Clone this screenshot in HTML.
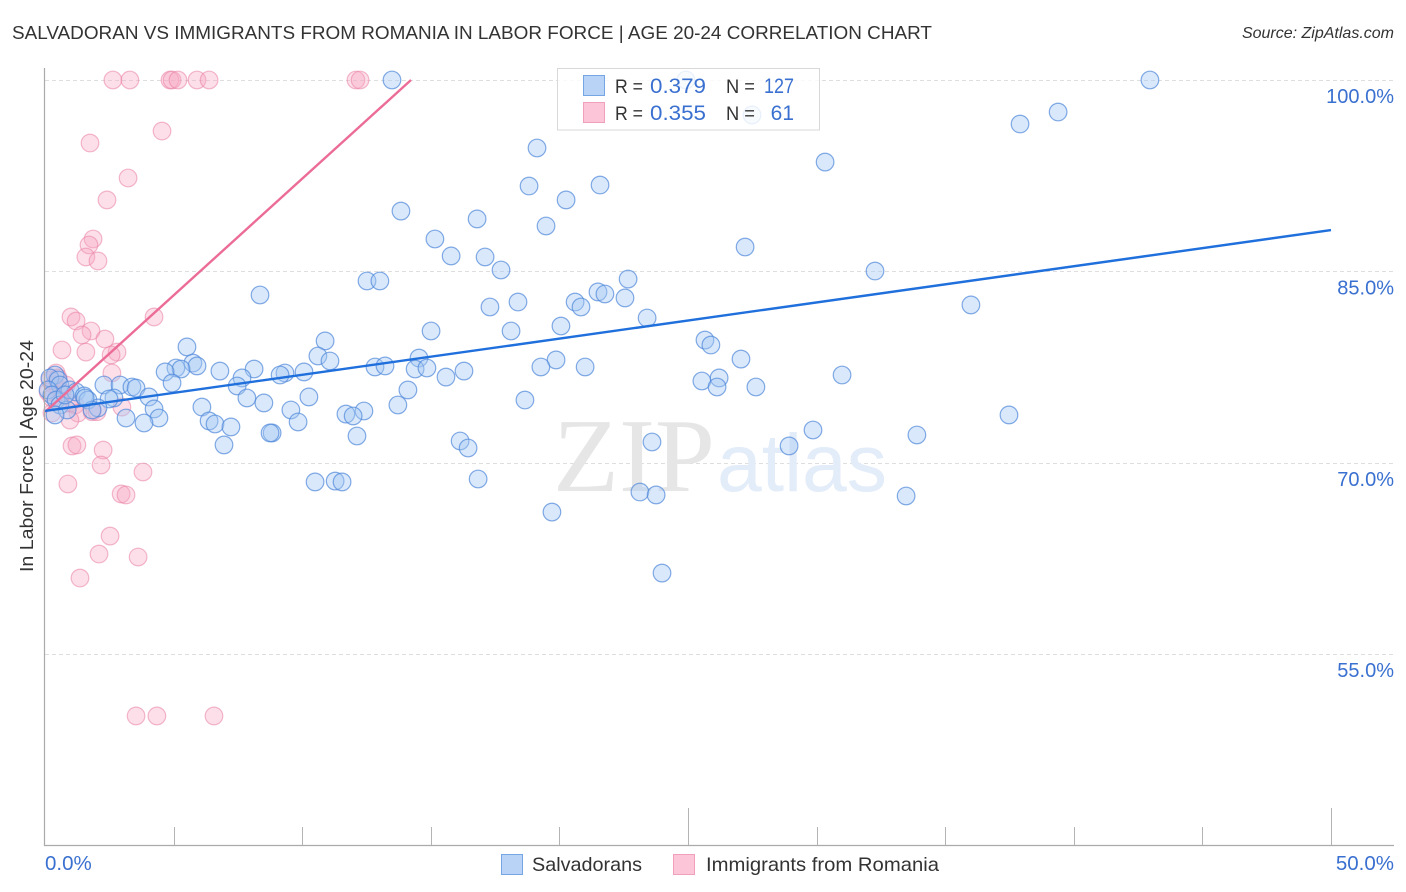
<!DOCTYPE html>
<html>
<head>
<meta charset="utf-8">
<style>
html,body{margin:0;padding:0;background:#fff;width:1406px;height:892px;overflow:hidden}
svg{display:block}
text{font-family:"Liberation Sans",sans-serif}
</style>
</head>
<body>
<svg id="chart" width="1406" height="892" viewBox="0 0 1406 892" xmlns="http://www.w3.org/2000/svg">
  <text x="12" y="39" font-size="18.5" fill="#333" textLength="920" lengthAdjust="spacingAndGlyphs">SALVADORAN VS IMMIGRANTS FROM ROMANIA IN LABOR FORCE | AGE 20-24 CORRELATION CHART</text>
  <text x="1394" y="38" font-size="16" font-style="italic" fill="#333" text-anchor="end">Source: ZipAtlas.com</text>
  <g id="grid"></g>
  <g>
    <text x="553" y="491" font-size="105" fill="#e6e6e6" style="font-family:'Liberation Serif',serif" textLength="162" lengthAdjust="spacingAndGlyphs">ZIP</text>
    <text x="717" y="491" font-size="82" fill="#e3ecf9" textLength="170" lengthAdjust="spacingAndGlyphs">atlas</text>
  </g>
  <g id="pink-points"></g>
  <g id="blue-points"></g>
  <g id="trends"></g>
  <line x1="44.5" y1="68" x2="44.5" y2="846" stroke="#aaa" stroke-width="1.2"/>
  <line x1="44" y1="845.5" x2="1394" y2="845.5" stroke="#aaa" stroke-width="1.2"/>
  <g id="ticks"></g>
  <text transform="translate(33,456) rotate(-90)" font-size="18" fill="#333" text-anchor="middle" textLength="232" lengthAdjust="spacingAndGlyphs">In Labor Force | Age 20-24</text>
  <g>
    <rect x="557.5" y="68.5" width="262" height="61.5" fill="#fff" fill-opacity="0.82" stroke="#d8d8d8"/>
    <rect x="583.5" y="75.5" width="21" height="20" fill="#b9d3f6" stroke="#76a5e4"/>
    <rect x="583.5" y="102.5" width="21" height="20" fill="#fcc6d8" stroke="#f0a0bb"/>
    <text x="615" y="93" font-size="19" fill="#333" textLength="28" lengthAdjust="spacingAndGlyphs">R =</text>
    <text x="650" y="93" font-size="21" fill="#3a70d0" textLength="56" lengthAdjust="spacingAndGlyphs">0.379</text>
    <text x="726" y="93" font-size="19" fill="#333" textLength="29" lengthAdjust="spacingAndGlyphs">N =</text>
    <text x="764" y="93" font-size="21" fill="#3a70d0" textLength="30" lengthAdjust="spacingAndGlyphs">127</text>
    <text x="615" y="120" font-size="19" fill="#333" textLength="28" lengthAdjust="spacingAndGlyphs">R =</text>
    <text x="650" y="120" font-size="21" fill="#3a70d0" textLength="56" lengthAdjust="spacingAndGlyphs">0.355</text>
    <text x="726" y="120" font-size="19" fill="#333" textLength="29" lengthAdjust="spacingAndGlyphs">N =</text>
    <text x="794" y="120" font-size="21" fill="#3a70d0" text-anchor="end">61</text>
  </g>
  <g>
    <rect x="501.5" y="854.5" width="21" height="20" fill="#b9d3f6" stroke="#76a5e4"/>
    <text x="532" y="871" font-size="19.5" fill="#333" textLength="110" lengthAdjust="spacingAndGlyphs">Salvadorans</text>
    <rect x="673.5" y="854.5" width="21" height="20" fill="#fcc6d8" stroke="#f0a0bb"/>
    <text x="706" y="871" font-size="19.5" fill="#333" textLength="233" lengthAdjust="spacingAndGlyphs">Immigrants from Romania</text>
  </g>
</svg>
<script>
var yTickValues = [100, 85, 70, 55];
var yTickLabels = ["100.0%", "85.0%", "70.0%", "55.0%"];
var xTickValues = [5, 10, 15, 20, 25, 30, 35, 40, 45, 50];
var xMajorTicks = [25, 50];
var xEndValues = [0, 50];
var xEndLabels = ["0.0%", "50.0%"];

var blueX = [24.92,13.49,42.96,39.39,37.91,27.49,19.13,30.33,18.82,21.58,20.26,13.84,16.80,19.48,15.16,27.22,15.79,17.11,17.73,32.27,12.52,13.02,22.67,8.36,21.50,21.77,22.55,20.61,20.84,18.39,17.30,36.00,23.41,20.06,15.01,18.12,25.66,25.89,10.89,5.52,10.61,11.08,14.54,27.06,19.87,5.75,5.91,5.09,5.29,4.67,6.80,8.13,12.83,13.22,14.39,14.85,16.29,19.28,21.00,9.33,9.14,10.07,30.99,15.59,4.94,7.66,7.47,25.54,26.21,26.13,27.64,2.29,2.92,3.38,3.54,14.11,7.85,10.26,18.66,4.04,2.68,2.49,8.51,13.72,4.24,6.10,9.56,11.70,12.40,11.98,37.48,3.15,4.43,6.38,3.85,6.61,9.84,7.23,29.86,33.90,8.83,8.75,12.13,16.14,16.45,6.96,23.60,28.93,16.84,10.50,11.28,11.55,23.13,23.76,33.48,19.71,23.99,0.39,0.19,0.51,0.58,0.12,0.97,1.21,1.52,1.67,0.27,0.43,0.58,0.86,0.78,2.06,1.83,1.56,0.39];
var blueY = [100,100,100,97.49,96.55,97.26,94.67,93.57,91.69,91.77,90.60,89.73,89.11,88.56,87.54,86.91,86.21,86.13,85.11,85.03,84.25,84.25,84.40,83.15,83.39,83.23,82.92,82.60,82.21,82.60,82.21,82.37,81.35,80.72,80.33,80.33,79.62,79.23,79.55,79.08,78.37,77.98,78.21,78.13,78.06,77.82,77.59,77.43,77.35,77.12,77.19,77.35,77.51,77.59,77.35,77.43,77.19,77.51,77.51,77.04,76.88,77.12,76.88,76.72,76.25,76.65,76.02,76.41,76.65,75.94,75.94,76.10,76.10,75.94,75.86,75.71,75.08,75.16,74.92,75.16,75.08,75.00,74.69,74.53,74.22,74.37,74.14,73.82,74.06,73.67,73.75,73.51,73.51,73.28,73.12,73.04,73.20,72.81,72.57,72.18,72.34,72.34,72.10,71.71,71.16,71.40,71.63,71.32,68.73,68.50,68.57,68.50,67.71,67.48,67.40,66.14,61.36,76.88,76.65,76.49,76.10,75.71,75.71,75.55,75.24,74.92,75.32,74.92,74.53,74.14,75.32,74.30,74.14,75.08,73.75];

var pinkX = [2.64,3.30,4.86,4.94,5.17,5.91,6.38,12.09,12.25,4.55,1.75,3.23,2.41,1.87,1.71,1.59,2.06,1.01,1.21,4.24,1.79,1.44,2.33,0.66,1.59,2.80,2.57,2.60,0.43,2.99,0.19,0.35,0.51,0.12,0.66,0.27,0.58,0.97,1.17,0.27,1.28,0.97,1.83,2.02,0.51,0.82,1.05,1.24,2.26,2.18,3.81,0.89,2.96,3.15,2.53,2.10,3.62,1.36,3.54,4.35,6.57];
var pinkY = [100,100,100,100,100,100,100,100,100,96.00,95.06,92.32,90.60,87.54,87.07,86.13,85.82,81.43,81.11,81.43,80.33,80.02,79.70,78.84,78.68,78.68,78.45,77.04,77.04,74.37,76.49,76.10,75.86,75.55,75.55,75.08,74.92,74.69,74.53,73.90,73.90,73.35,74.00,74.00,76.65,76.10,71.32,71.40,71.00,69.83,69.28,68.34,67.56,67.48,64.26,62.85,62.62,60.97,50.16,50.16,50.16];

var blueTrendX = [0, 50];
var blueTrendY = [74.06, 88.24];
var pinkTrendX = [0, 14.23];
var pinkTrendY = [73.98, 100];

var NS = "http://www.w3.org/2000/svg";
function xScale(v) { return 45 + v * 25.72; }
function yScale(v) { return 80 + (100 - v) * 12.76; }
function make(tag, attrs, parent) {
  var el = document.createElementNS(NS, tag);
  for (var k in attrs) el.setAttribute(k, attrs[k]);
  parent.appendChild(el);
  return el;
}

var grid = document.getElementById("grid");
var ticks = document.getElementById("ticks");
yTickValues.forEach(function (v, i) {
  var gy = Math.round(yScale(v)) + 0.5;
  var line = make("line", {x1: 45, y1: gy, x2: 1394, y2: gy, stroke: "#dedede", "stroke-width": 1, "stroke-dasharray": "4 3"}, grid);
  
  
  var label = make("text", {x: 1394, y: yScale(v) + 23, "font-size": 20, fill: "#3a70d0", "text-anchor": "end"}, ticks);
  
  
  label.textContent = yTickLabels[i];
});
xTickValues.forEach(function (v) {
  var tx = Math.round(xScale(v)) + 0.5;
  var top = xMajorTicks.indexOf(v) >= 0 ? 808 : 827;
  var tick = make("line", {x1: tx, y1: top, x2: tx, y2: 845, stroke: "#b4b4b4", "stroke-width": 1}, ticks);
  
  
});
xEndValues.forEach(function (v, i) {
  var label = make("text", {x: i === 0 ? xScale(v) : 1394, y: 870, "font-size": 20.5, fill: "#3a70d0", "text-anchor": i === 0 ? "start" : "end"}, ticks);
  
  
  label.textContent = xEndLabels[i];
});

var pinkGroup = document.getElementById("pink-points");
pinkX.forEach(function (v, i) {
  var c = make("circle", {cx: xScale(v), cy: yScale(pinkY[i]), r: 8.8, fill: "#f6a6c1", "fill-opacity": 0.36, stroke: "#ea7fa3", "stroke-opacity": 0.55, "stroke-width": 1.2}, pinkGroup);
  
  
});
var blueGroup = document.getElementById("blue-points");
blueX.forEach(function (v, i) {
  var c = make("circle", {cx: xScale(v), cy: yScale(blueY[i]), r: 8.8, fill: "#a5c8f3", "fill-opacity": 0.42, stroke: "#4e87da", "stroke-opacity": 0.7, "stroke-width": 1.2}, blueGroup);
  
  
});

var trends = document.getElementById("trends");
var pinkLine = make("line", {x1: xScale(pinkTrendX[0]), y1: yScale(pinkTrendY[0]), x2: xScale(pinkTrendX[1]), y2: yScale(pinkTrendY[1]), stroke: "#ec6c98", "stroke-width": 2.4}, trends);


var blueLine = make("line", {x1: xScale(blueTrendX[0]), y1: yScale(blueTrendY[0]), x2: xScale(blueTrendX[1]), y2: yScale(blueTrendY[1]), stroke: "#1f6fdc", "stroke-width": 2.4}, trends);


</script>
</body>
</html>
